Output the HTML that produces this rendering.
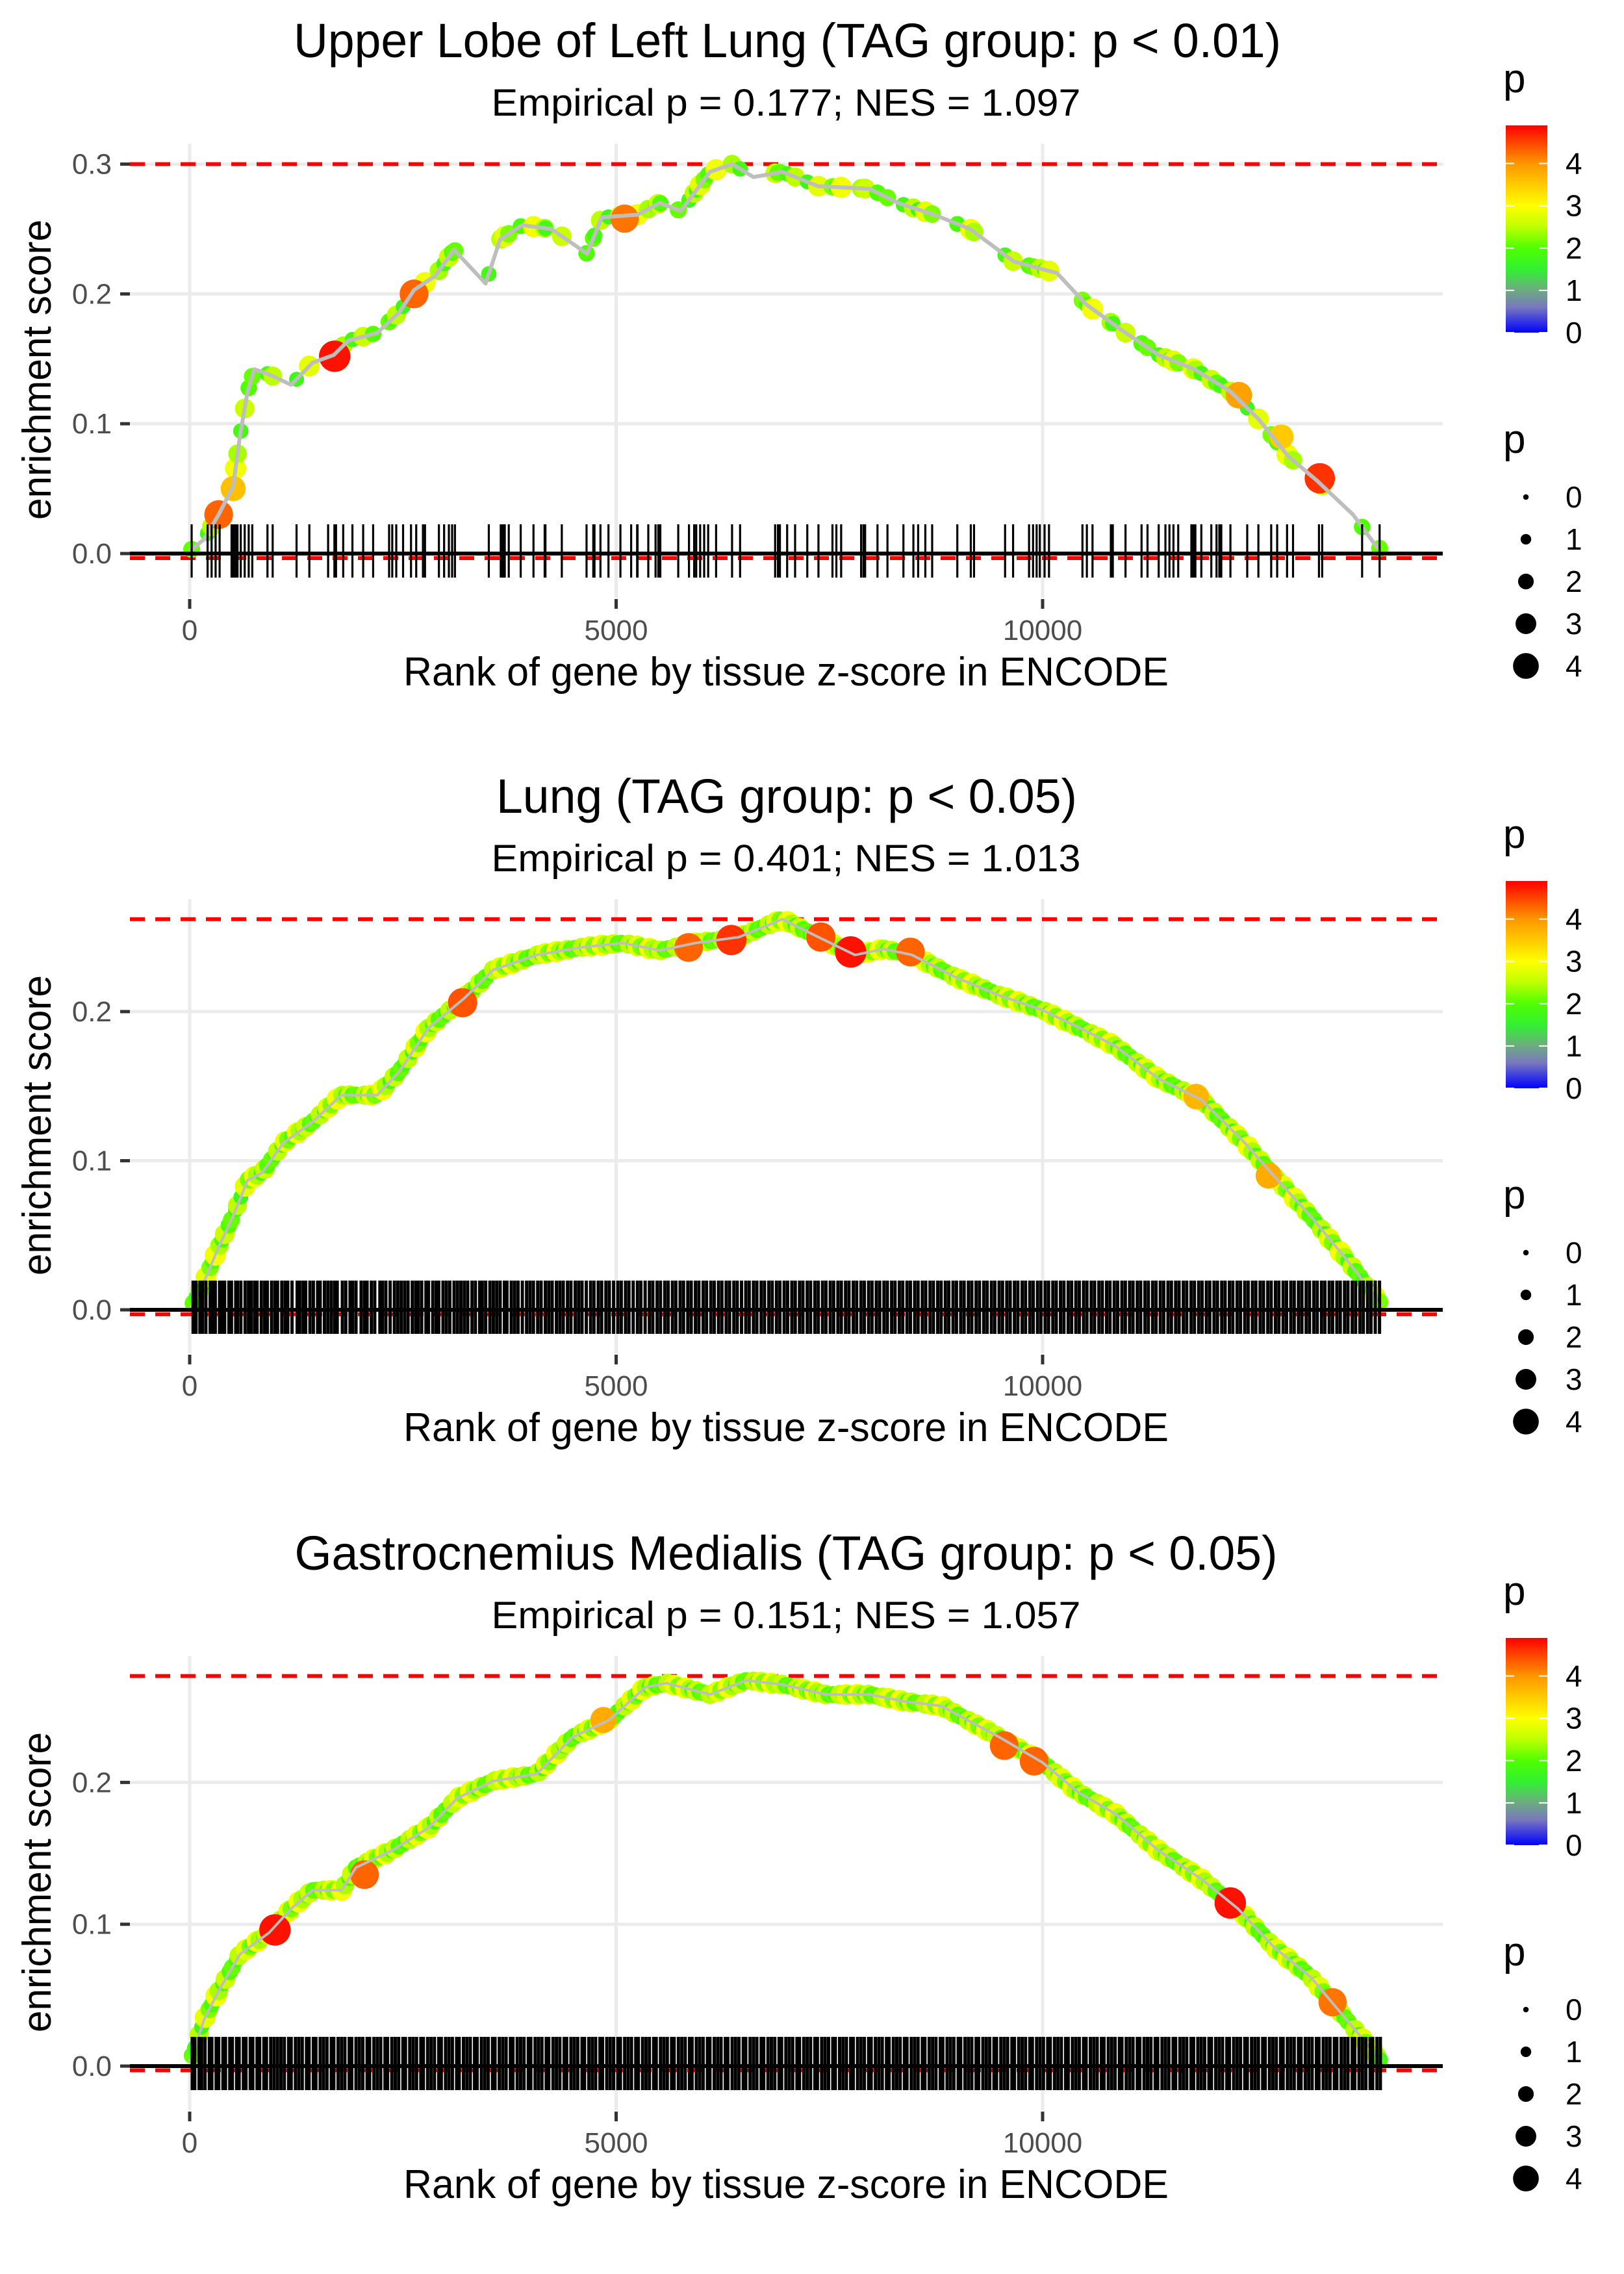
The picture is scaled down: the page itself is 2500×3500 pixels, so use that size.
<!DOCTYPE html>
<html><head><meta charset="utf-8"><style>
html,body{margin:0;padding:0;background:#fff;}
svg{display:block;font-family:"Liberation Sans",sans-serif;}
</style></head><body>
<svg id="fig" width="2500" height="3500" viewBox="0 0 2500 3500" xmlns="http://www.w3.org/2000/svg">
<defs>
<linearGradient id="pgrad" x1="0" y1="1" x2="0" y2="0"></linearGradient>
</defs>
</svg>
<script>
// ---------- data ----------
const panelTitles = ["Upper Lobe of Left Lung (TAG group: p < 0.01)","Lung (TAG group: p < 0.05)","Gastrocnemius Medialis (TAG group: p < 0.05)"];
const panelSubtitles = ["Empirical p = 0.177; NES = 1.097","Empirical p = 0.401; NES = 1.013","Empirical p = 0.151; NES = 1.057"];
const xTicks = [0,5000,10000];
const xTickLabels = ["0","5000","10000"];
const yTicks1 = [0,0.1,0.2,0.3];
const yTicks2 = [0,0.1,0.2];
const yTicks3 = [0,0.1,0.2];
const esMax = [0.3,0.262,0.275];
const esMin = [-0.0035,-0.003,-0.003];
const legendTicks = [0,1,2,3,4];

const curve1Rank = [0,170,340,510,590,680,760,930,1190,1440,1690,1860,2200,2460,2630,2880,3100,3470,3640,3900,4240,4660,4830,5250,5510,5760,6100,6360,6610,6950,7370,7970,8310,8730,9150,9660,10170,10510,10930,11360,11780,12200,12540,12880,13220,13640,13930];
const curve1ES = [0.002,0.011,0.03,0.052,0.091,0.125,0.142,0.138,0.13,0.147,0.153,0.164,0.17,0.186,0.203,0.214,0.234,0.208,0.242,0.253,0.25,0.231,0.259,0.261,0.27,0.264,0.294,0.3,0.29,0.294,0.283,0.281,0.27,0.261,0.25,0.225,0.216,0.192,0.172,0.153,0.142,0.125,0.103,0.075,0.056,0.03,0.004];
const hits1 = [23,210,257,304,351,491,514,538,561,599,645,692,734,912,973,1253,1403,1623,1697,1716,1800,1908,2034,2151,2338,2375,2422,2502,2595,2656,2735,2759,2922,2983,3039,3077,3110,3507,3647,3671,3694,3741,3881,4031,4162,4171,4363,4653,4732,4746,4816,4910,5050,5176,5246,5251,5377,5462,5494,5518,5728,5854,5915,5939,5985,6032,6079,6172,6359,6453,6864,6897,6920,7005,7098,7241,7372,7536,7582,7638,7872,7900,7919,8064,8181,8368,8485,8541,8625,8705,9000,9158,9196,9560,9654,9841,9888,9930,9967,10023,10075,10467,10519,10585,10800,10823,10972,11160,11230,11361,11440,11487,11534,11590,11744,11768,11791,11861,11978,12039,12072,12095,12202,12399,12530,12680,12750,12866,12936,13240,13278,13746,13951];
const big1Rank = [340,510,1700,2630,5100,12300,12800,13250];
const big1ES = [0.03,0.05,0.152,0.2,0.258,0.122,0.09,0.058];
const big1P = [4.3,3.6,4.8,4.3,4.2,3.9,3.5,4.6];

const curve2Rank = [0,170,340,510,680,850,1100,1440,1780,2200,2460,2800,3220,3560,4070,4580,5080,5510,5930,6440,6950,7370,7800,8140,8470,8980,9490,10000,10510,10850,11360,11860,12370,12710,13140,13560,13980];
const curve2ES = [0,0.019,0.042,0.063,0.087,0.092,0.112,0.126,0.144,0.144,0.16,0.189,0.209,0.228,0.238,0.243,0.246,0.241,0.246,0.25,0.262,0.25,0.238,0.242,0.238,0.223,0.211,0.201,0.187,0.177,0.155,0.141,0.112,0.09,0.063,0.034,0.003];
const hits2 = [40,75,120,150,190,240,270,300,350,380,410,460,490,540,560,600,650,690,720,760,790,840,880,910,960,1000,1030,1080,1120,1150,1200,1260,1290,1330,1360,1410,1450,1500,1530,1580,1620,1660,1700,1730,1790,1830,1880,1910,1950,2010,2050,2080,2130,2170,2230,2260,2300,2350,2400,2440,2480,2520,2560,2610,2650,2680,2720,2770,2800,2850,2890,2920,2970,3010,3050,3100,3140,3180,3220,3260,3310,3350,3400,3430,3470,3520,3560,3600,3640,3690,3720,3770,3810,3850,3900,3950,3990,4030,4080,4120,4170,4210,4250,4300,4340,4380,4430,4470,4520,4560,4600,4650,4700,4740,4790,4830,4880,4920,4970,5020,5060,5110,5150,5200,5250,5290,5340,5390,5430,5480,5520,5570,5610,5660,5700,5750,5790,5840,5880,5930,5970,6020,6060,6110,6150,6200,6240,6290,6330,6380,6420,6470,6520,6560,6610,6650,6700,6740,6790,6830,6880,6920,6970,7010,7060,7100,7150,7190,7240,7280,7330,7370,7420,7460,7510,7550,7600,7640,7690,7730,7780,7820,7870,7910,7960,8000,8050,8090,8140,8180,8230,8270,8320,8360,8410,8450,8500,8540,8590,8630,8680,8720,8770,8810,8860,8900,8950,8990,9040,9080,9130,9170,9220,9260,9310,9350,9400,9440,9490,9530,9580,9620,9670,9710,9760,9800,9850,9890,9940,9980,10030,10070,10120,10160,10210,10250,10300,10340,10390,10430,10480,10520,10570,10610,10660,10700,10750,10790,10840,10880,10930,10970,11020,11060,11110,11150,11200,11240,11290,11330,11380,11420,11470,11510,11560,11600,11650,11690,11740,11780,11830,11870,11920,11960,12010,12050,12100,12140,12190,12230,12280,12320,12370,12410,12460,12500,12550,12590,12640,12680,12730,12770,12820,12860,12910,12950,13000,13040,13090,13130,13180,13220,13270,13310,13360,13400,13450,13490,13540,13580,13630,13670,13720,13760,13810,13850,13900,13950];
const big2Rank = [3200,5850,6350,7400,7750,8450,11800,12650];
const big2ES = [0.206,0.243,0.248,0.25,0.24,0.24,0.143,0.09];
const big2P = [4.4,4.3,4.6,4.4,4.8,4.3,3.7,3.8];

const curve3Rank = [0,170,340,590,930,1190,1440,1780,1950,2370,2800,3140,3560,4070,4490,4920,5340,5590,6100,6530,6950,7460,7970,8390,8810,9490,10000,10420,10850,11360,11860,12290,12710,13140,13560,13980];
const curve3ES = [0.002,0.033,0.053,0.079,0.094,0.111,0.124,0.124,0.14,0.152,0.168,0.189,0.201,0.206,0.232,0.244,0.267,0.27,0.262,0.272,0.269,0.262,0.262,0.257,0.254,0.232,0.214,0.193,0.178,0.152,0.132,0.111,0.084,0.063,0.033,0.003];
const hits3 = [30,60,110,140,180,230,260,310,340,390,420,470,500,550,580,630,660,710,740,790,820,870,900,950,990,1030,1070,1110,1160,1190,1240,1280,1320,1370,1400,1450,1480,1530,1570,1610,1660,1690,1740,1780,1820,1870,1900,1950,1990,2030,2080,2110,2160,2200,2240,2290,2320,2370,2410,2450,2500,2530,2580,2620,2660,2710,2740,2790,2830,2870,2920,2950,3000,3040,3080,3130,3160,3210,3250,3290,3340,3370,3420,3460,3500,3550,3580,3630,3670,3710,3760,3790,3840,3880,3920,3970,4000,4050,4090,4130,4180,4210,4260,4300,4340,4390,4420,4470,4510,4550,4600,4630,4680,4720,4760,4810,4840,4890,4930,4970,5020,5050,5100,5140,5180,5230,5260,5310,5350,5390,5440,5470,5520,5560,5600,5650,5680,5730,5770,5810,5860,5890,5940,5980,6020,6070,6100,6150,6190,6230,6280,6310,6360,6400,6440,6490,6520,6570,6610,6650,6700,6730,6780,6820,6860,6910,6940,6990,7030,7070,7120,7150,7200,7240,7280,7330,7360,7410,7450,7490,7540,7570,7620,7660,7700,7750,7780,7830,7870,7910,7960,7990,8040,8080,8120,8170,8200,8250,8290,8330,8380,8410,8460,8500,8540,8590,8620,8670,8710,8750,8800,8830,8880,8920,8960,9010,9040,9090,9130,9170,9220,9250,9300,9340,9380,9430,9460,9510,9550,9590,9640,9670,9720,9760,9800,9850,9880,9930,9970,10010,10060,10090,10140,10180,10220,10270,10300,10350,10390,10430,10480,10510,10560,10600,10640,10690,10720,10770,10810,10850,10900,10930,10980,11020,11060,11110,11140,11190,11230,11270,11320,11350,11400,11440,11480,11530,11560,11610,11650,11690,11740,11770,11820,11860,11900,11950,11980,12030,12070,12110,12160,12190,12240,12280,12320,12370,12400,12450,12490,12530,12580,12610,12660,12700,12740,12790,12820,12870,12910,12950,13000,13030,13080,13120,13160,13210,13240,13290,13330,13370,13420,13450,13500,13540,13580,13630,13660,13710,13750,13790,13840,13870,13920,13960];
const big3Rank = [1000,2050,4850,9550,9900,12200,13400];
const big3ES = [0.096,0.135,0.244,0.226,0.215,0.115,0.045];
const big3P = [4.8,4.3,3.8,4.3,4.3,4.8,4.2];

// typical p values of the ordinary hits (read as a recurring mix of greens/yellows)
const hitPMix = [2.1,1.8,2.5,1.7,2.8,2.2,1.9,2.9,2.4,1.8,2.6,2.0];

// ---------- helpers ----------
const NS = "http://www.w3.org/2000/svg";
const svg = document.getElementById('fig');
function mk(tag, attrs, parent){const e=document.createElementNS(NS,tag);for(const k in attrs)e.setAttribute(k,attrs[k]);(parent||svg).appendChild(e);return e;}
const colStops = [[0,[0,0,255]],[0.6,[120,120,190]],[1.0,[110,170,130]],[1.5,[50,240,50]],[2.0,[80,255,0]],[2.5,[190,255,0]],[3.0,[255,255,0]],[4.0,[255,150,0]],[4.9,[255,0,0]]];
function pColor(p){
  if(p<=colStops[0][0])return 'rgb('+colStops[0][1]+')';
  for(let i=1;i<colStops.length;i++){if(p<=colStops[i][0]){const a=colStops[i-1],b=colStops[i];const t=(p-a[0])/(b[0]-a[0]);const c=a[1].map((v,j)=>Math.round(v+(b[1][j]-v)*t));return 'rgb('+c+')';}}
  return 'rgb('+colStops[colStops.length-1][1]+')';
}
function pRadius(p){return 4.5+4.1*p;}
const pMax = 4.9;
const grad = document.getElementById('pgrad');
colStops.forEach(s=>{const st=document.createElementNS(NS,'stop');st.setAttribute('offset',(s[0]/pMax));st.setAttribute('stop-color','rgb('+s[1]+')');grad.appendChild(st);});

const X = r => 292 + r*0.1313;
const PL=200, PR=2221;
function interpES(cr, ce, r){
  if(r<=cr[0])return ce[0];
  for(let i=1;i<cr.length;i++){if(r<=cr[i]){const t=(r-cr[i-1])/(cr[i]-cr[i-1]);return ce[i-1]+(ce[i]-ce[i-1])*t;}}
  return ce[ce.length-1];
}

const panels = [
 {off:0, zero:852, k:1998, yt:yTicks1, cr:curve1Rank, ce:curve1ES, hits:hits1, br:big1Rank, be:big1ES, bp:big1P, titleW:1520, tx:1212, rugW:3.2},
 {off:1163, zero:2016, k:2295, yt:yTicks2, cr:curve2Rank, ce:curve2ES, hits:hits2, br:big2Rank, be:big2ES, bp:big2P, titleW:894, tx:1211, rugW:5},
 {off:2328, zero:3180, k:2183, yt:yTicks3, cr:curve3Rank, ce:curve3ES, hits:hits3, br:big3Rank, be:big3ES, bp:big3P, titleW:1513, tx:1210, rugW:5}
];

panels.forEach((P,pi)=>{
  const g = mk('g',{});
  
  
  const o=P.off;
  const Y = v => P.zero - v*P.k;
  const t = mk('text',{x:P.tx,y:o+88,'text-anchor':'middle','font-size':74,textLength:P.titleW,lengthAdjust:'spacingAndGlyphs',fill:'#000'},g);
  t.textContent=panelTitles[pi];
  
  
  const st = mk('text',{x:1210,y:o+178,'text-anchor':'middle','font-size':58,textLength:907,lengthAdjust:'spacingAndGlyphs',fill:'#000'},g);
  st.textContent=panelSubtitles[pi];
  
  
  const grid = mk('g',{stroke:'#ebebeb','stroke-width':5},g);
  
  
  xTicks.forEach(v=>mk('line',{x1:X(v),x2:X(v),y1:o+221,y2:o+920},grid));
  P.yt.forEach(v=>mk('line',{x1:PL,x2:PR,y1:Y(v),y2:Y(v)},grid));
  xTicks.forEach((v,i)=>{
    mk('line',{x1:X(v),x2:X(v),y1:o+922,y2:o+937,stroke:'#333','stroke-width':5},g);
    const l=mk('text',{x:X(v),y:o+985,'text-anchor':'middle','font-size':44,fill:'#4d4d4d'},g);
    l.textContent=xTickLabels[i];
    
    
  });
  P.yt.forEach(v=>{
    mk('line',{x1:185,x2:200,y1:Y(v),y2:Y(v),stroke:'#333','stroke-width':5},g);
    const l=mk('text',{x:172,y:Y(v)+15,'text-anchor':'end','font-size':44,fill:'#4d4d4d'},g);
    l.textContent=v.toFixed(1);
    
    
  });
  const xt=mk('text',{x:1210,y:o+1055,'text-anchor':'middle','font-size':62,textLength:1178,lengthAdjust:'spacingAndGlyphs',fill:'#000'},g);
  xt.textContent='Rank of gene by tissue z-score in ENCODE';
  
  
  const yt=mk('text',{x:0,y:0,'text-anchor':'middle','font-size':62,textLength:462,lengthAdjust:'spacingAndGlyphs',fill:'#000',transform:'translate(78,'+(o+569)+') rotate(-90)'},g);
  yt.textContent='enrichment score';
  
  
  [esMax[pi],esMin[pi]].forEach(v=>{
    const d=mk('line',{x1:PL,x2:PR,y1:Y(v),y2:Y(v),stroke:'#ff0000','stroke-width':6,'stroke-dasharray':'23 16'},g);
    
    
  });
  const dots = mk('g',{},g);
  
  
  P.hits.forEach((r,i)=>{
    const p = hitPMix[i%hitPMix.length];
    const c=mk('circle',{cx:X(r),cy:Y(interpES(P.cr,P.ce,r)),r:pRadius(p),fill:pColor(p)},dots);
    
    
  });
  P.br.forEach((r,i)=>{
    const c=mk('circle',{cx:X(r),cy:Y(P.be[i]),r:pRadius(P.bp[i]),fill:pColor(P.bp[i])},dots);
    
    
  });
  const pts = P.cr.map((r,i)=>X(r).toFixed(1)+','+Y(P.ce[i]).toFixed(1)).join(' ');
  const pl=mk('polyline',{points:pts,fill:'none',stroke:'#bebebe','stroke-width':pi===0?6:4,'stroke-linejoin':'round'},g);
  
  
  const rug = mk('g',{stroke:'#000','stroke-width':P.rugW},g);
  
  
  P.hits.forEach(r=>mk('line',{x1:X(r),x2:X(r),y1:P.zero-45,y2:P.zero+37},rug));
  const z=mk('line',{x1:PL,x2:PR,y1:P.zero,y2:P.zero,stroke:'#000','stroke-width':6},g);
  
  

  const lg = mk('g',{},g);
  
  
  const lt=mk('text',{x:2314,y:o+142,'font-size':62,fill:'#000'},lg);
  lt.textContent='p';
  const barTop=o+193, barBot=o+512;
  mk('rect',{x:2318,y:barTop,width:64,height:barBot-barTop,fill:'url(#pgrad)'},lg);
  const LY = p => barBot - (p/pMax)*(barBot-barTop);
  legendTicks.forEach(p=>{
    mk('line',{x1:2318,x2:2331,y1:LY(p),y2:LY(p),stroke:'#fff','stroke-width':2},lg);
    mk('line',{x1:2369,x2:2382,y1:LY(p),y2:LY(p),stroke:'#fff','stroke-width':2},lg);
    const tl=mk('text',{x:2410,y:LY(p)+16,'font-size':46,fill:'#000'},lg);
    tl.textContent=String(p);
  });
  const sg = mk('g',{},g);
  
  
  const st2=mk('text',{x:2314,y:o+697,'font-size':62,fill:'#000'},sg);
  st2.textContent='p';
  legendTicks.forEach((p,i)=>{
    const cy=o+765+i*65;
    mk('circle',{cx:2349,cy:cy,r:pRadius(p)*0.95,fill:'#000'},sg);
    const tl=mk('text',{x:2410,y:cy+16,'font-size':46,fill:'#000'},sg);
    tl.textContent=String(p);
  });
});
</script>
</body></html>
